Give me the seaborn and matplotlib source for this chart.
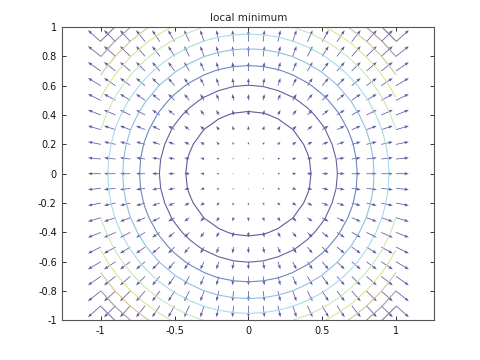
import numpy as np
import matplotlib
matplotlib.use("Agg")
import matplotlib.pyplot as plt
import seaborn as sns

# grid coordinates (spacing 0.1 from -1 to 1)
grid_vals = [-1.0, -0.9, -0.8, -0.7, -0.6, -0.5, -0.4, -0.3, -0.2, -0.1, 0.0,
             0.1, 0.2, 0.3, 0.4, 0.5, 0.6, 0.7, 0.8, 0.9, 1.0]
# contour levels of f(x, y) = x^2 + y^2
levels = [0.1818, 0.3636, 0.5455, 0.7273, 0.9091, 1.0909, 1.2727, 1.4545, 1.6364, 1.8182]
level_colors = ["#5c5c98", "#62629f", "#6f86bd", "#8fc0de", "#a8dce8",
                "#cde6b8", "#e4e094", "#d8c496", "#b09898", "#907890"]
x_ticks = [-1, -0.5, 0, 0.5, 1]
x_ticklabels = ["-1", "-0.5", "0", "0.5", "1"]
y_ticks = [-1, -0.8, -0.6, -0.4, -0.2, 0, 0.2, 0.4, 0.6, 0.8, 1]
y_ticklabels = ["-1", "-0.8", "-0.6", "-0.4", "-0.2", "0", "0.2", "0.4", "0.6", "0.8", "1"]
title = "local minimum"

sns.set_theme(style="white")
plt.rcParams["font.family"] = ["DejaVu Sans"]

X, Y = np.meshgrid(np.array(grid_vals), np.array(grid_vals))
Z = X ** 2 + Y ** 2
U, V = 2 * X, 2 * Y

fig = plt.figure(figsize=(4.8, 3.6), dpi=100)
ax = fig.add_axes([0.13, 0.11, 0.775, 0.815])

colors = sns.color_palette(level_colors)
ax.contour(X, Y, Z, levels=levels, colors=colors, linewidths=0.8)

ax.quiver(X, Y, U, V, angles="xy", scale_units="xy", scale=23.0,
          color="#4b4b9c", width=0.0021, headwidth=4, headlength=5.5,
          headaxislength=5, alpha=0.9)

ax.set_xlim(-1.26, 1.26)
ax.set_ylim(-1, 1)
ax.set_xticks(x_ticks)
ax.set_xticklabels(x_ticklabels)
ax.set_yticks(y_ticks)
ax.set_yticklabels(y_ticklabels)
ax.tick_params(direction="in", length=3, width=0.6, labelsize=7, colors="#111111",
               top=True, right=True, bottom=True, left=True, pad=4)
for s in ax.spines.values():
    s.set_color("#555555")
    s.set_linewidth(0.8)
ax.set_title(title, fontsize=7.5, pad=4)

fig.savefig("out.png", dpi=100)
